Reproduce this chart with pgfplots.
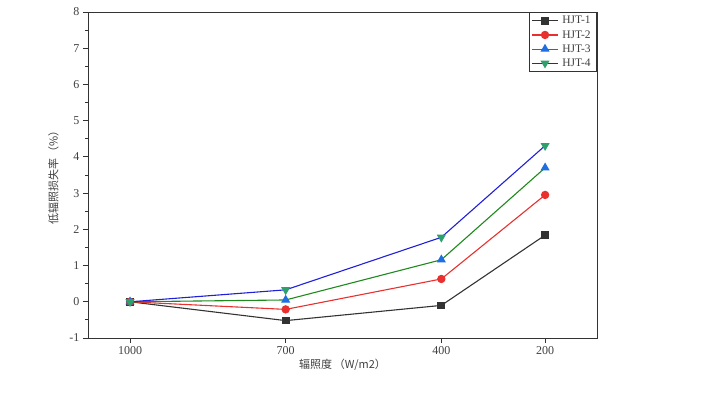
\documentclass[border=0pt]{standalone}
\usepackage{pgfplots}
\pgfplotsset{compat=1.18}
\usepackage{fontspec}
\setmainfont{Liberation Serif}
\newfontfamily\cjk{Noto Sans CJK SC}
\definecolor{c1}{HTML}{333333}
\definecolor{c2}{HTML}{E8312F}
\definecolor{c3l}{HTML}{1E8A1E}
\definecolor{c3m}{HTML}{1F6FE0}
\definecolor{c4l}{HTML}{2020D8}
\definecolor{c4m}{HTML}{2EA06A}
\begin{document}
\begin{tikzpicture}
\path[use as bounding box] (-88pt,-54pt) rectangle (634pt,338pt);
\begin{axis}[
  at={(0,0)}, anchor=south west,
  scale only axis, width=509pt, height=326pt,
  x dir=reverse, xmin=100, xmax=1081,
  ymin=-1, ymax=8,
  xtick={1000,700,400,200},
  ytick={-1,0,...,8},
  minor y tick num=1,
  tick align=outside,
  axis line style={line width=0.9pt, black!80},
  tick style={line width=0.8pt, black!80},
  major tick length=5pt, minor tick length=3pt,
  xtick pos=bottom, ytick pos=left,
  /pgf/number format/assume math mode=true,
  /pgf/number format/set thousands separator={},
  ticklabel style={font=\fontsize{12}{14}\selectfont, text=black!75},
  xlabel={\cjk 辐照度\,（W/m2）},
  ylabel={\cjk 低辐照损失率\,（\%）},
  label style={font=\fontsize{11}{13}\selectfont, text=black!75},
  xlabel style={yshift=2pt},
  ylabel style={yshift=4pt},
  legend style={at={(rel axis cs:1,1)}, anchor=north east, draw=black!80, line width=0.6pt,
    font=\fontsize{11.5}{13}\selectfont, text=black!75, inner sep=2pt, row sep=1pt,
    nodes={inner xsep=4pt}},
  legend cell align=left,
  legend image code/.code={
    \draw[mark repeat=2,mark phase=2] plot coordinates {(0cm,0cm) (0.45cm,0cm) (0.9cm,0cm)};
  },
  every axis plot/.append style={line width=1.1pt},
]
\addplot[c1, mark=square*, mark size=3.3pt, mark options={fill=c1, draw=c1}] coordinates {(1000,0) (700,-0.52) (400,-0.10) (200,1.84)};
\addlegendentry{HJT-1}
\addplot[c2, mark=*, mark size=3.6pt, mark options={fill=c2, draw=c2}] coordinates {(1000,0) (700,-0.21) (400,0.63) (200,2.95)};
\addlegendentry{HJT-2}
\addplot[c3l, mark=triangle*, mark size=4.2pt, mark options={fill=c3m, draw=c3m}] coordinates {(1000,0) (700,0.05) (400,1.16) (200,3.70)};
\addlegendentry{HJT-3}
\addplot[c4l, mark=triangle*, mark size=4.2pt, mark options={fill=c4m, draw=c4m, rotate=180}] coordinates {(1000,0) (700,0.33) (400,1.78) (200,4.31)};
\addlegendentry{HJT-4}
\end{axis}
\end{tikzpicture}
\end{document}
